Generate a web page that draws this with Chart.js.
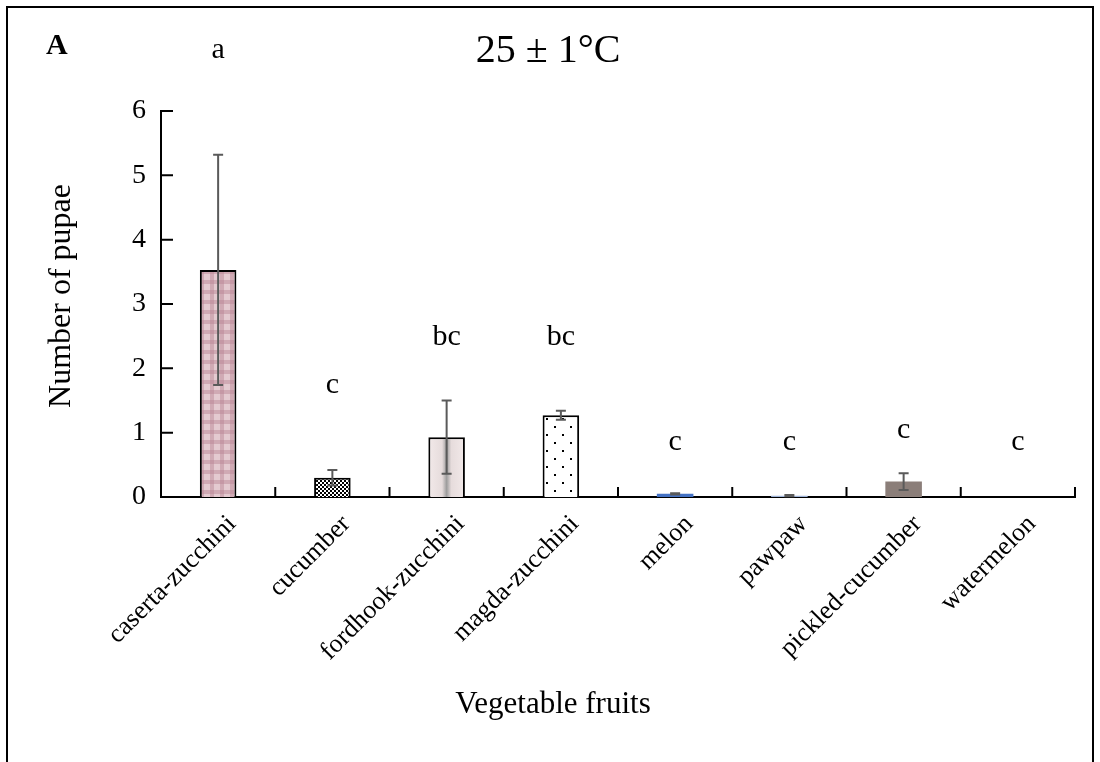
<!DOCTYPE html>
<html>
<head>
<meta charset="utf-8">
<script src="https://cdn.jsdelivr.net/npm/chart.js@4.4.1/dist/chart.umd.min.js"></script>
<style>
html, body { margin: 0; padding: 0; background: #fff; }
#wrap { width: 1100px; height: 762px; position: relative; }
</style>
</head>
<body>
<div id="wrap"><canvas id="pupaeChart" width="1100" height="762"></canvas></div>
<script>
// data
const fruits = ['caserta-zucchini', 'cucumber', 'fordhook-zucchini', 'magda-zucchini', 'melon', 'pawpaw', 'pickled-cucumber', 'watermelon'];
const pupae = [3.53, 0.30, 0.93, 1.27, 0.05, 0.02, 0.24, 0];
const pupaeErr = [1.79, 0.12, 0.57, 0.07, 0.01, 0.01, 0.13, 0];
const letters = ['a', 'c', 'bc', 'bc', 'c', 'c', 'c', 'c'];
const letterLevels = [6.95, 1.74, 2.49, 2.49, 0.85, 0.85, 1.04, 0.85];
const yTicks = [0, 1, 2, 3, 4, 5, 6];

const SERIF = '"Liberation Serif", "Times New Roman", serif';

const canvas = document.getElementById('pupaeChart');
const ctx = canvas.getContext('2d');

function makePattern(size, draw) {
	const c = document.createElement('canvas');
	c.width = size; c.height = size;
	const g = c.getContext('2d');
	draw(g);
	return ctx.createPattern(c, 'repeat');
}

// caserta: pink plaid
const plaid = makePattern(10, function (g) {
	g.fillStyle = '#e4cad0';
	g.fillRect(0, 0, 10, 10);
	g.fillStyle = 'rgba(185,130,146,0.45)';
	g.fillRect(0, 0, 10, 4);
	g.fillRect(0, 0, 4, 10);
});
// cucumber: fine checker
const checker = makePattern(4, function (g) {
	g.fillStyle = '#fff';
	g.fillRect(0, 0, 4, 4);
	g.fillStyle = '#000';
	g.fillRect(0, 0, 2, 2);
	g.fillRect(2, 2, 2, 2);
});
// magda: sparse dots
const dots = makePattern(16, function (g) {
	g.fillStyle = '#fff';
	g.fillRect(0, 0, 16, 16);
	g.fillStyle = '#000';
	g.fillRect(2, 2, 2, 2);
	g.fillRect(10, 10, 2, 2);
});

function fordhookFill(context) {
	const chart = context.chart;
	const x = chart.scales.x;
	if (!chart.chartArea || !x) return '#ece2e2';
	const cx = x.getPixelForValue(context.dataIndex);
	const g = chart.ctx.createLinearGradient(cx - 19, 0, cx + 19, 0);
	g.addColorStop(0, '#f3eaea');
	g.addColorStop(0.38, '#e6dcdc');
	g.addColorStop(0.5, '#9c9c9c');
	g.addColorStop(0.62, '#e6dcdc');
	g.addColorStop(1, '#f3eaea');
	return g;
}

const fills = [plaid, checker, null, dots, '#4472c4', '#9fb4d8', '#8b7e79', '#ffffff'];

const extras = {
	id: 'extras',
	afterDatasetsDraw(chart) {
		const c = chart.ctx;
		const x = chart.scales.x, y = chart.scales.y;
		const area = chart.chartArea;
		c.save();
		// error bars
		c.strokeStyle = '#5a5a5a';
		c.lineWidth = 2;
		pupae.forEach(function (v, i) {
			if (!pupaeErr[i]) return;
			const px = x.getPixelForValue(i);
			const top = y.getPixelForValue(v + pupaeErr[i]);
			const bot = y.getPixelForValue(Math.max(0, v - pupaeErr[i]));
			c.beginPath();
			c.moveTo(px, top); c.lineTo(px, bot);
			c.moveTo(px - 5, top); c.lineTo(px + 5, top);
			c.moveTo(px - 5, bot); c.lineTo(px + 5, bot);
			c.stroke();
		});
		// significance letters
		c.fillStyle = '#000';
		c.font = '30px ' + SERIF;
		c.textAlign = 'center';
		c.textBaseline = 'middle';
		letters.forEach(function (t, i) {
			c.fillText(t, x.getPixelForValue(i), y.getPixelForValue(letterLevels[i]));
		});
		// inward tick marks
		c.strokeStyle = '#000';
		c.lineWidth = 2;
		c.beginPath();
		yTicks.forEach(function (v) {
			const py = y.getPixelForValue(v);
			c.moveTo(area.left, py); c.lineTo(area.left + 12, py);
		});
		for (let k = 1; k <= fruits.length; k++) {
			const px = x.getPixelForValue(k - 0.5);
			c.moveTo(px, area.bottom); c.lineTo(px, area.bottom - 10);
		}
		c.stroke();
		c.restore();
	},
	afterDraw(chart) {
		const c = chart.ctx;
		c.save();
		c.strokeStyle = '#000';
		c.lineWidth = 2;
		c.strokeRect(7, 7, 1086, 800);
		c.fillStyle = '#000';
		c.font = 'bold 30px ' + SERIF;
		c.textAlign = 'left';
		c.textBaseline = 'alphabetic';
		c.fillText('A', 46, 54);
		c.font = '40px ' + SERIF;
		c.textAlign = 'center';
		c.fillText('25 \u00b1 1\u00b0C', 548, 62);
		c.font = '31px ' + SERIF;
		c.textBaseline = 'middle';
		c.fillText('Vegetable fruits', 553, 705);
		c.font = '32px ' + SERIF;
		c.translate(62, 296);
		c.rotate(-Math.PI / 2);
		c.fillText('Number of pupae', 0, 0);
		c.restore();
	}
};

const pupaeChart = new Chart(ctx, {
	type: 'bar',
	data: {
		labels: fruits,
		datasets: [{
			label: 'Number of pupae',
			data: pupae,
			backgroundColor: function (context) {
				const f = fills[context.dataIndex];
				return f === null ? fordhookFill(context) : f;
			},
			borderColor: ['#000', '#000', '#000', '#000', 'rgba(0,0,0,0)', 'rgba(0,0,0,0)', 'rgba(0,0,0,0)', 'rgba(0,0,0,0)'],
			borderWidth: [2, 2, 2, 2, 0, 0, 0, 0],
			categoryPercentage: 1,
			barPercentage: 0.32
		}]
	},
	options: {
		responsive: false,
		animation: false,
		devicePixelRatio: 1,
		layout: { padding: { left: 0, right: 25, top: 111, bottom: 0 } },
		plugins: {
			legend: { display: false },
			tooltip: { enabled: false }
		},
		scales: {
			x: {
				offset: true,
				grid: { display: false, drawTicks: false },
				border: { display: true, color: '#000', width: 2 },
				ticks: {
					color: '#000',
					font: { family: SERIF, size: 26 },
					minRotation: 45,
					maxRotation: 45,
					padding: 12,
					labelOffset: 14
				},
				afterFit: function (s) { s.height = 265; }
			},
			y: {
				min: 0,
				max: 6,
				grid: { display: false, drawTicks: false },
				border: { display: true, color: '#000', width: 2 },
				ticks: {
					color: '#000',
					stepSize: 1,
					font: { family: SERIF, size: 28 },
					padding: 15
				},
				afterFit: function (s) { s.width = 161; }
			}
		}
	},
	plugins: [extras]
});
</script>
</body>
</html>
